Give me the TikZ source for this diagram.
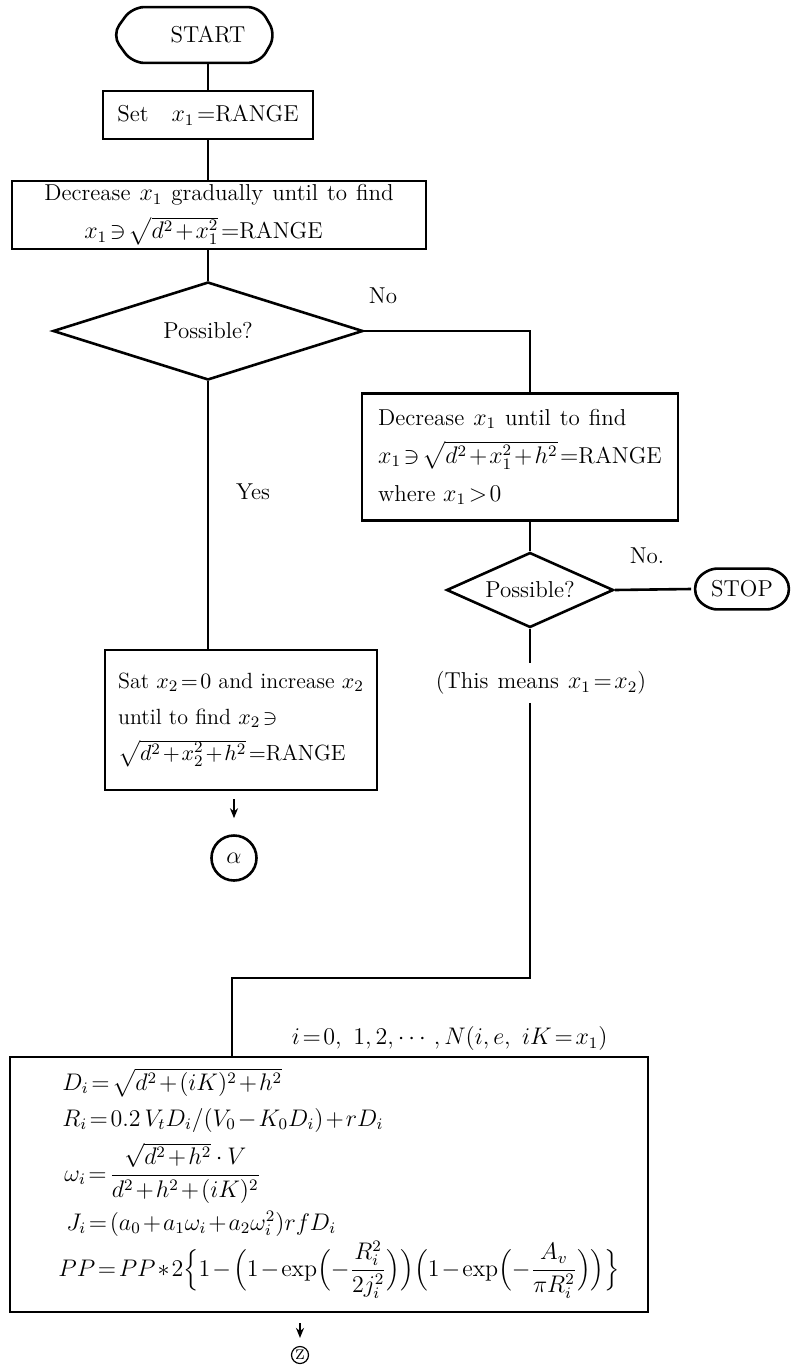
\documentclass[tikz,border=0pt]{standalone}
\usepackage{amsmath,amssymb}
\usetikzlibrary{shapes.geometric,arrows.meta,calc}
\newcommand\wsp{\spaceskip=4.5pt plus 2pt minus 1pt\relax}
\newcommand\nsp{\spaceskip=3.6pt plus 1pt minus 1pt\relax}
\begin{document}
\begin{tikzpicture}[x=0.5pt,y=-0.5pt,
  every node/.style={font=\fontsize{11.5}{17.5}\selectfont},
  ln/.style={line width=1.3pt},
  pbox/.style={draw, line width=1.3pt, inner ysep=0pt, align=left},
  term/.style={inner sep=0pt},
  decision/.style={diamond, draw, line width=1.3pt, inner sep=0pt},
  tag/.style={inner sep=1pt},
  form/.style={anchor=base west, inner sep=0pt},
  arr/.style={line width=0.9pt, -{Stealth[length=5pt,width=4pt]}},
  termline/.style={ln, rounded corners=6pt},
]
\thickmuskip=2mu plus 1mu\relax
\medmuskip=1.5mu plus 1mu\relax
\useasboundingbox (0,0) rectangle (796,1370);

% nodes
\node[term, minimum width=81.5pt, minimum height=27.5pt] (start) at (194,35) {\hspace*{14pt}START};
\node[pbox, minimum width=105pt, minimum height=24pt] (set) at (208,115) {Set\quad $x_1=$RANGE};
\node[pbox, minimum width=207pt, minimum height=34pt, font=\fontsize{11.5}{19}\selectfont] (dec) at (219,215)
  {\wsp Decrease $x_1$ gradually until to find\\\hspace*{20pt}$x_1\ni\sqrt{d^2+x_1^2}=$RANGE};
\node[decision, aspect=3.2, minimum width=155pt, minimum height=49pt] (d1) at (208,331) {Possible?};
\node[pbox, minimum width=158pt, minimum height=63.5pt, font=\fontsize{11.5}{19}\selectfont] (rb) at (520,457)
  {\wsp Decrease $x_1$ until to find\\$x_1\ni\sqrt{d^2+x_1^2+h^2}=$RANGE\\where $x_1>0$};
\node[decision, aspect=2.3, minimum width=83.5pt, minimum height=37.5pt] (d2) at (530,590) {Possible?};
\node[term, minimum width=50.5pt, minimum height=20pt] (stop) at (742,589) {STOP};
\node[pbox, minimum width=136pt, minimum height=70pt, font=\fontsize{11}{18}\selectfont] (sat) at (241,720)
  {\nsp Sat $x_2=0$ and increase $x_2$\\until to find $x_2\ni$\\$\sqrt{d^2+x_2^2+h^2}=$RANGE};
\node[draw, circle, line width=1.3pt, minimum size=22.5pt, inner sep=0pt] (alpha) at (234,858) {$\alpha$};
\node[tag] (means) at (541,683) {\wsp(This means $x_1=x_2$)};
\coordinate (bend) at (232,978);
\node[pbox, minimum width=319pt, minimum height=127.5pt] (big) at (329,1184.5) {};
\node[form] (f1) at (62,1090) {$D_i=\sqrt{d^2+(iK)^2+h^2}$};
\node[form] (f2) at (62,1126) {$R_i=0.2\,V_tD_i/(V_0-K_0D_i)+rD_i$};
\node[form] (f3) at (64,1181) {$\omega_i=\dfrac{\sqrt{d^2+h^2}\;\cdot\;V}{d^2+h^2+(iK)^2}$};
\node[form] (f4) at (66,1230) {$J_i=(a_0+a_1\omega_i+a_2\omega_i^2)rfD_i$};
\node[form] (f5) at (58,1276) {$PP=PP\ast 2\Bigl\{1-\Bigl(1-\exp\Bigl(-\dfrac{R_i^2}{2j_i^2}\Bigr)\Bigr)\Bigl(1-\exp\Bigl(-\dfrac{A_v}{\pi R_i^2}\Bigr)\Bigr)\Bigr\}$};
\node[tag, anchor=south east] (loop) at (610,1053) {$i=0,\ 1,2,\cdots,N(i,e,\ iK=x_1)$};
\node[circle, draw, line width=0.6pt, inner sep=0.6pt, font=\fontsize{7}{8}\selectfont] (zz) at (300,1355) {Z};

% labels
\node[tag] (no1) at (383,296) {No};
\node[tag] (yes) at (253,492) {Yes};
\node[tag] (no2) at (647,556) {No.};

% terminal outlines
\draw[termline] ([xshift=10pt]start.north west) -- ([xshift=-8pt]start.north east) -- (start.east)
  -- ([xshift=-8pt]start.south east) -- ([xshift=10pt]start.south west) -- (start.west) -- cycle;
\draw[termline] ([xshift=7pt]stop.north west) -- ([xshift=-7pt]stop.north east) -- (stop.east)
  -- ([xshift=-7pt]stop.south east) -- ([xshift=7pt]stop.south west) -- (stop.west) -- cycle;

% connectors
\draw[ln] (start.south -| set.north) -- (set.north);
\draw[ln] (set.south) -- (set.south |- dec.north);
\draw[ln] (d1.north |- dec.south) -- (d1.north);
\draw[ln] (d1.east) -| (rb.north -| d2.north);
\draw[ln] (rb.south -| d2.north) -- (d2.north);
\draw[ln] (d2.east) -- (stop.west);
\draw[ln] (d1.south) -- (d1.south |- sat.north);
\draw[ln, shorten >=3pt] (d2.south) -- (means.north -| d2.south);
\draw[ln] ([yshift=-3pt]means.south -| d2.south) |- (bend) -- (bend |- big.north);
\draw[arr] ([yshift=-4pt]sat.south -| alpha.north) -- ([yshift=8pt]alpha.north);
\draw[arr] ([yshift=-5pt]big.south -| zz.north) -- ([yshift=4pt]zz.north);
\end{tikzpicture}
\end{document}
